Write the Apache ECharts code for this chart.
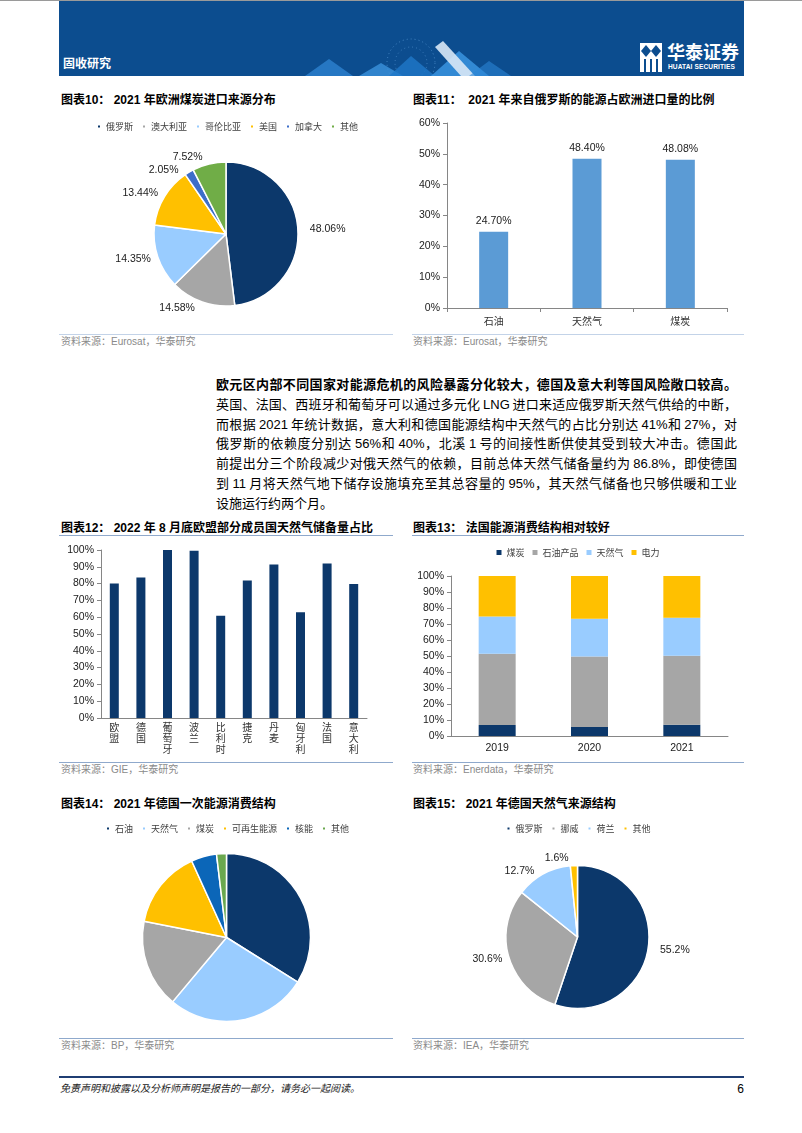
<!DOCTYPE html>
<html lang="zh-CN"><head><meta charset="utf-8">
<script src="https://cdn.jsdelivr.net/npm/echarts@6/dist/echarts.min.js"></script>
<style>
body{margin:0;width:802px;height:1133px;position:relative;background:#fff;font-family:"Liberation Sans","Noto Sans CJK SC",sans-serif;overflow:hidden}
.title{position:absolute;font-size:12px;font-weight:bold;color:#000;white-space:nowrap;line-height:14px}
.src{position:absolute;font-size:10px;color:#8a8a8a;white-space:nowrap;line-height:12px}
.hl{position:absolute;height:1px;background:#8fa9cc}
.chart{position:absolute}
.para{position:absolute;left:216px;top:375px;width:521px;font-size:13px;line-height:19.8px;color:#000;word-spacing:-1px}
.para div{text-align:justify;text-align-last:justify;white-space:nowrap}
.para div.last{text-align-last:left}
</style></head>
<body>
<!-- header -->
<div style="position:absolute;left:0;top:0;width:802px;height:1px;background:#9a9a9a"></div>
<div style="position:absolute;left:59px;top:1px;width:685px;height:75px;background:#0c4d8f;overflow:hidden">
<svg width="685" height="75" style="position:absolute;left:0;top:0">
 <circle cx="352" cy="62" r="24" fill="none" stroke="#5a9ad6" stroke-width="1" stroke-dasharray="1,3" opacity="0.7"/>
 <circle cx="352" cy="62" r="16" fill="none" stroke="#5a9ad6" stroke-width="1" stroke-dasharray="1,3" opacity="0.6"/>
 <polygon points="246,75 270,58 294,75" fill="#2f86d4" opacity="0.75"/>
 <polygon points="300,75 322,62 344,75" fill="#3b92dc" opacity="0.8"/>
 <polygon points="330,75 352,55 376,75" fill="#1f78c8" opacity="0.8"/>
 <polygon points="372,75 400,50 430,75" fill="#3a94e0" opacity="0.85"/>
 <polygon points="376,46 384,40 416,75 402,75" fill="#d8e8f6" opacity="0.9"/>
 <polygon points="410,75 430,60 452,75" fill="#2c86d6" opacity="0.6"/>
</svg>
</div>
<div style="position:absolute;left:63px;top:55px;font-size:12px;color:#fff;font-weight:bold;font-family:'Noto Sans CJK SC';line-height:16px">固收研究</div>
<div style="position:absolute;left:640px;top:43px;width:22px;height:29px;background:#fff"></div>
<svg width="22" height="29" style="position:absolute;left:640px;top:43px">
 <polygon points="6,2 11,8 6,14 1,8" fill="#0c4d8f"/>
 <polygon points="16,2 21,8 16,14 11,8" fill="#0c4d8f"/>
 <rect x="4" y="16" width="2" height="13" fill="#0c4d8f"/>
 <rect x="10" y="16" width="2" height="13" fill="#0c4d8f"/>
 <rect x="16" y="16" width="2" height="13" fill="#0c4d8f"/>
</svg>
<div style="position:absolute;left:667px;top:40px;font-size:18px;color:#fff;font-weight:bold;font-family:'Noto Sans CJK SC';line-height:22px">华泰证券</div>
<div style="position:absolute;left:668px;top:63px;font-size:6.6px;color:#fff;font-weight:bold;line-height:8px;letter-spacing:0.1px">HUATAI SECURITIES</div>

<!-- top row -->
<div class="title" style="left:61px;top:93px">图表10： 2021 年欧洲煤炭进口来源分布</div>
<div class="title" style="left:413px;top:93px">图表11：&nbsp; 2021 年来自俄罗斯的能源占欧洲进口量的比例</div>
<div id="c10" class="chart" style="left:59px;top:110px;width:336px;height:220px"></div>
<div id="c11" class="chart" style="left:410px;top:110px;width:336px;height:220px"></div>
<div class="hl" style="left:59px;top:334px;width:334px;background:#c3d3e8"></div>
<div class="hl" style="left:412px;top:334px;width:332px;background:#c3d3e8"></div>
<div class="src" style="left:61px;top:336px">资料来源：Eurosat，华泰研究</div>
<div class="src" style="left:413px;top:336px">资料来源：Eurosat，华泰研究</div>

<!-- paragraph -->
<div class="para">
<div style="font-weight:bold">欧元区内部不同国家对能源危机的风险暴露分化较大，德国及意大利等国风险敞口较高。</div>
<div>英国、法国、西班牙和葡萄牙可以通过多元化 LNG 进口来适应俄罗斯天然气供给的中断，</div>
<div>而根据 2021 年统计数据，意大利和德国能源结构中天然气的占比分别达 41%和 27%，对</div>
<div>俄罗斯的依赖度分别达 56%和 40%，北溪 1 号的间接性断供使其受到较大冲击。德国此</div>
<div>前提出分三个阶段减少对俄天然气的依赖，目前总体天然气储备量约为 86.8%，即使德国</div>
<div>到 11 月将天然气地下储存设施填充至其总容量的 95%，其天然气储备也只够供暖和工业</div>
<div class="last">设施运行约两个月。</div>
</div>

<!-- middle row -->
<div class="title" style="left:61px;top:521px">图表12： 2022 年 8 月底欧盟部分成员国天然气储备量占比</div>
<div class="title" style="left:413px;top:521px">图表13： 法国能源消费结构相对较好</div>
<div class="hl" style="left:59px;top:535px;width:334px"></div>
<div class="hl" style="left:412px;top:535px;width:332px"></div>
<div id="c12" class="chart" style="left:59px;top:538px;width:336px;height:222px"></div>
<div id="c13" class="chart" style="left:410px;top:538px;width:336px;height:222px"></div>
<div class="hl" style="left:59px;top:762px;width:334px"></div>
<div class="hl" style="left:412px;top:762px;width:332px"></div>
<div class="src" style="left:61px;top:764px">资料来源：GIE，华泰研究</div>
<div class="src" style="left:413px;top:764px">资料来源：Enerdata，华泰研究</div>

<!-- bottom row -->
<div class="title" style="left:61px;top:797px">图表14： 2021 年德国一次能源消费结构</div>
<div class="title" style="left:413px;top:797px">图表15： 2021 年德国天然气来源结构</div>
<div id="c14" class="chart" style="left:59px;top:815px;width:336px;height:220px"></div>
<div id="c15" class="chart" style="left:410px;top:815px;width:336px;height:220px"></div>
<div class="hl" style="left:59px;top:1038px;width:334px"></div>
<div class="hl" style="left:412px;top:1038px;width:332px"></div>
<div class="src" style="left:61px;top:1040px">资料来源：BP，华泰研究</div>
<div class="src" style="left:413px;top:1040px">资料来源：IEA，华泰研究</div>

<!-- footer -->
<div style="position:absolute;left:59px;top:1076px;width:685px;height:2px;background:#1f3d73"></div>
<div style="position:absolute;left:60px;top:1083px;font-size:10px;font-style:italic;color:#222;line-height:12px">免责声明和披露以及分析师声明是报告的一部分，请务必一起阅读。</div>
<div style="position:absolute;right:58px;top:1082px;font-size:12px;color:#000;line-height:14px">6</div>

<script>
// ---- data ----
const pie10Names = ['俄罗斯','澳大利亚','哥伦比亚','美国','加拿大','其他'];
const pie10Values = [48.06,14.58,14.35,13.44,2.05,7.52];
const bar11Cats = ['石油','天然气','煤炭'];
const bar11Values = [24.70,48.40,48.08];
const bar12Cats = ['欧盟','德国','葡萄牙','波兰','比利时','捷克','丹麦','匈牙利','法国','意大利'];
const bar12Values = [80.0,83.6,100.0,99.6,60.9,81.8,91.3,63.0,91.9,79.8];
const stack13Years = ['2019','2020','2021'];
const stack13Names = ['煤炭','石油产品','天然气','电力'];
const stack13Coal = [6.9,5.6,7.1];
const stack13Oil = [44.5,44.1,43.0];
const stack13Gas = [23.3,23.6,23.8];
const stack13Power = [25.3,26.7,26.1];
const pie14Names = ['石油','天然气','煤炭','可再生能源','核能','其他'];
const pie14Values = [33.9,27.2,17.0,15.1,4.9,1.9];
const pie15Names = ['俄罗斯','挪威','荷兰','其他'];
const pie15Values = [55.2,30.6,12.7,1.6];

const NUM = 'Liberation Sans, Noto Sans CJK SC, sans-serif';
const CJK = 'Noto Sans CJK SC, Liberation Sans, sans-serif';
const NAVY = '#0c386b';
const AX = '#868686';

function mk(id, opt){
  const c = echarts.init(document.getElementById(id), null, {renderer:'canvas'});
  opt.animation = false;
  c.setOption(opt);
}
function pieLegend(names, top, gap){
  return {data:names, top:top, left:'center', icon:'rect', itemWidth:4, itemHeight:4, itemGap:gap,
    textStyle:{fontSize:9, color:'#404040', fontFamily:CJK}, selectedMode:false};
}
function pieSeries(names, values, colors, center, r, digits, showLabel){
  return {type:'pie', center:center, radius:r, startAngle:90, clockwise:true,
    avoidLabelOverlap:true,
    itemStyle:{borderColor:'#fff', borderWidth:1.5},
    label:{show:showLabel, position:'outside', fontSize:10.5, color:'#1a1a1a', fontFamily:NUM,
      formatter:p=>p.value.toFixed(digits)+'%'},
    labelLine:{show:false, length:7, length2:0},
    emphasis:{disabled:true},
    data:names.map((n,i)=>({name:n, value:values[i], itemStyle:{color:colors[i]}}))};
}

// chart 10
mk('c10', {
  legend: pieLegend(pie10Names, 7, 8),
  series:[pieSeries(pie10Names, pie10Values,
    [NAVY,'#a6a6a6','#99ccff','#ffc000','#3d6ec9','#70ad47'], [167,124], 72, 2, true)]
});

// chart 11
mk('c11', {
  grid:{left:37, right:19, top:13, bottom:22},
  xAxis:{type:'category', data:bar11Cats,
    axisLine:{lineStyle:{color:AX}}, axisTick:{show:true, length:4, lineStyle:{color:AX}},
    axisLabel:{fontSize:10, color:'#333', margin:8, fontFamily:CJK}},
  yAxis:{type:'value', min:0, max:60, interval:10,
    axisLine:{show:true, lineStyle:{color:AX}}, axisTick:{show:true, length:4, lineStyle:{color:AX}},
    splitLine:{show:false},
    axisLabel:{formatter:'{value}%', fontSize:10.5, color:'#1a1a1a', margin:7, fontFamily:NUM}},
  series:[{type:'bar', data:bar11Values, barWidth:29, itemStyle:{color:'#5b9bd5'},
    label:{show:true, position:'top', distance:5, fontSize:10.5, color:'#1a1a1a', fontFamily:NUM,
      formatter:p=>p.value.toFixed(2)+'%'}}]
});

// chart 12
mk('c12', {
  grid:{left:42, right:28, top:12, bottom:42},
  xAxis:{type:'category', data:bar12Cats,
    axisLine:{lineStyle:{color:AX}}, axisTick:{show:false},
    axisLabel:{fontSize:10, color:'#333', margin:4, lineHeight:11, fontFamily:CJK, interval:0,
      formatter:v=>v.split('').join('\n')}},
  yAxis:{type:'value', min:0, max:100, interval:10,
    axisLine:{show:true, lineStyle:{color:AX}}, axisTick:{show:true, length:4, lineStyle:{color:AX}},
    splitLine:{show:false},
    axisLabel:{formatter:'{value}%', fontSize:10.5, color:'#1a1a1a', margin:7, fontFamily:NUM}},
  series:[{type:'bar', data:bar12Values, barWidth:9, itemStyle:{color:NAVY}}]
});

// chart 13
const c13Colors = [NAVY,'#a6a6a6','#99ccff','#ffc000'];
const c13Data = [stack13Coal, stack13Oil, stack13Gas, stack13Power];
mk('c13', {
  legend:{data:stack13Names, top:5, left:'center', icon:'rect', itemWidth:5, itemHeight:5, itemGap:8,
    textStyle:{fontSize:9, color:'#404040', fontFamily:CJK}, selectedMode:false},
  grid:{left:41, right:18, top:38, bottom:24},
  xAxis:{type:'category', data:stack13Years,
    axisLine:{lineStyle:{color:AX}}, axisTick:{show:false},
    axisLabel:{fontSize:10.5, color:'#1a1a1a', margin:7, fontFamily:NUM}},
  yAxis:{type:'value', min:0, max:100, interval:10,
    axisLine:{show:true, lineStyle:{color:AX}}, axisTick:{show:true, length:4, lineStyle:{color:AX}},
    splitLine:{show:false},
    axisLabel:{formatter:'{value}%', fontSize:10.5, color:'#1a1a1a', margin:7, fontFamily:NUM}},
  series: stack13Names.map((n,i)=>({name:n, type:'bar', stack:'s', data:c13Data[i], barWidth:37,
    itemStyle:{color:c13Colors[i]}}))
});

// chart 14
mk('c14', {
  legend: pieLegend(pie14Names, 4, 8),
  series:[pieSeries(pie14Names, pie14Values,
    [NAVY,'#99ccff','#a6a6a6','#ffc000','#0b66b8','#6aa84f'], [167.5,122.5], 84, 1, false)]
});

// chart 15
mk('c15', {
  legend: pieLegend(pie15Names, 4, 8),
  series:[pieSeries(pie15Names, pie15Values,
    [NAVY,'#a6a6a6','#99ccff','#ffc000'], [167.5,122], 71.5, 1, true)]
});
</script>
</body></html>
